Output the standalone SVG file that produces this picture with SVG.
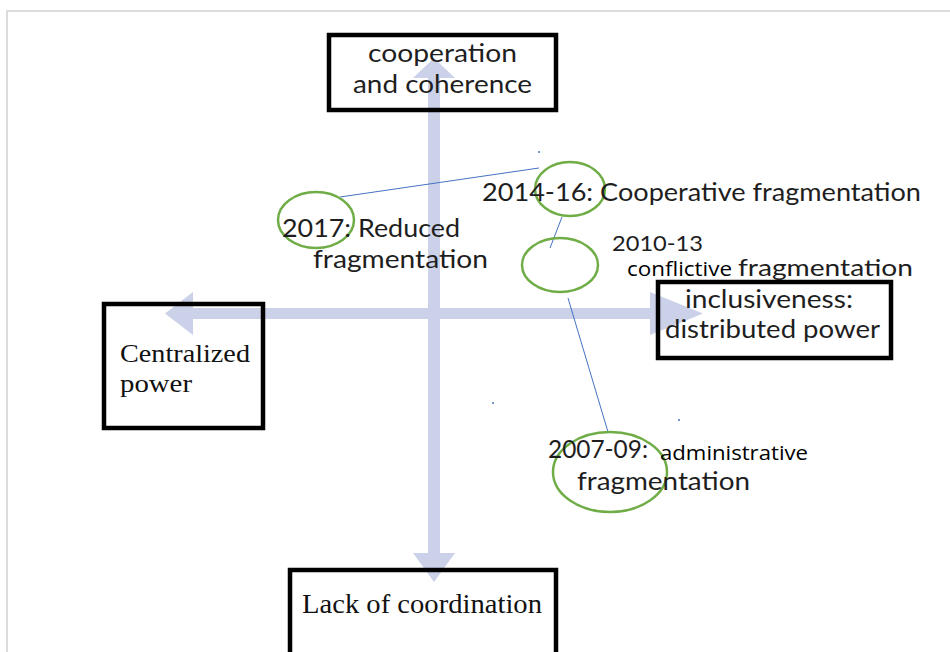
<svg xmlns="http://www.w3.org/2000/svg" width="950" height="652" viewBox="0 0 950 652">
  <style>
    .frame { fill: none; stroke: #dcdcdc; stroke-width: 2; }
    .axis { fill: #cbd1e8; }
    .box { fill: none; stroke: #000; stroke-width: 4.5; }
    .sans { font-family: Lato, "Open Sans", "Liberation Sans", sans-serif; fill: #1e1e1e; }
    .serif { font-family: "Liberation Serif", "DejaVu Serif", serif; fill: #111; }
    .plain { font-family: "Open Sans", "Liberation Sans", sans-serif; fill: #000; }
    .ring { fill: none; stroke: #70ad47; stroke-width: 2.5; }
    .link { stroke: #4472c4; stroke-width: 1; fill: none; }
    .dot { fill: #4472c4; }
  </style>

  <rect width="950" height="652" fill="#fff"/>
  <path class="frame" d="M7,652 V11 H950"/>

  <!-- axes -->
  <g id="axes">
    <path class="axis" d="M428,553 V78 H413 L434,58 L455,78 H440 V553 H455 L434,582 L413,553 Z"/>
    <path class="axis" d="M193,308 H650 V292 L703,313.5 L650,335 V319 H193 V335 L165,313.5 L193,292 Z"/>
  </g>

  <!-- connectors -->
  <g id="connectors">
    <line class="link" x1="340" y1="197" x2="539" y2="168"/>
    <line class="link" x1="562" y1="217" x2="550" y2="248"/>
    <line class="link" x1="568" y1="298" x2="608" y2="432"/>
    <circle class="dot" cx="539" cy="152" r="1"/>
    <circle class="dot" cx="493" cy="403" r="1"/>
    <circle class="dot" cx="679" cy="420" r="1"/>
  </g>

  <g id="top-box">
    <rect class="box" x="329" y="35" width="227" height="75"/>
    <text class="sans" x="368" y="62" font-size="25" textLength="149" lengthAdjust="spacingAndGlyphs">cooperation</text>
    <text class="sans" x="353" y="93" font-size="25" textLength="179" lengthAdjust="spacingAndGlyphs">and coherence</text>
  </g>

  <g id="left-box">
    <rect class="box" x="104" y="304" width="159" height="124"/>
    <text class="serif" x="120" y="362" font-size="25" textLength="130" lengthAdjust="spacingAndGlyphs">Centralized</text>
    <text class="serif" x="120" y="392" font-size="25" textLength="72" lengthAdjust="spacingAndGlyphs">power</text>
  </g>

  <g id="right-box">
    <rect class="box" x="658" y="282" width="233" height="76"/>
    <text class="sans" x="685" y="308" font-size="25" textLength="168" lengthAdjust="spacingAndGlyphs">inclusiveness:</text>
    <text class="sans" x="665" y="338" font-size="25" textLength="215" lengthAdjust="spacingAndGlyphs">distributed power</text>
  </g>

  <g id="bottom-box">
    <rect class="box" x="290" y="570" width="266" height="90"/>
    <text class="serif" x="302" y="613" font-size="27" textLength="240" lengthAdjust="spacingAndGlyphs">Lack of coordination</text>
  </g>

  <g id="phase-2017">
    <ellipse class="ring" cx="316" cy="220" rx="38" ry="28"/>
    <text class="sans" x="282" y="237" font-size="25" textLength="178" lengthAdjust="spacingAndGlyphs">2017: Reduced</text>
    <text class="sans" x="313" y="268" font-size="25" textLength="175" lengthAdjust="spacingAndGlyphs">fragmentation</text>
  </g>

  <g id="phase-2014">
    <ellipse class="ring" cx="570" cy="189" rx="35" ry="27"/>
    <text class="sans" x="482" y="201" font-size="25" textLength="439" lengthAdjust="spacingAndGlyphs">2014-16: Cooperative fragmentation</text>
  </g>

  <g id="phase-2010">
    <ellipse class="ring" cx="560" cy="265" rx="38" ry="27"/>
    <text class="sans" x="612" y="251" font-size="22" textLength="91" lengthAdjust="spacingAndGlyphs">2010-13</text>
    <text class="plain" x="627" y="276" font-size="20" textLength="105" lengthAdjust="spacingAndGlyphs">conflictive</text>
    <text class="sans" x="738" y="276" font-size="24" textLength="175" lengthAdjust="spacingAndGlyphs">fragmentation</text>
  </g>

  <g id="phase-2007">
    <ellipse class="ring" cx="610" cy="472" rx="57" ry="40"/>
    <text class="sans" x="548" y="458" font-size="25" textLength="100" lengthAdjust="spacingAndGlyphs">2007-09:</text>
    <text class="plain" x="660" y="460" font-size="20" textLength="148" lengthAdjust="spacingAndGlyphs">administrative</text>
    <text class="sans" x="577" y="490" font-size="25" textLength="173" lengthAdjust="spacingAndGlyphs">fragmentation</text>
  </g>
</svg>
